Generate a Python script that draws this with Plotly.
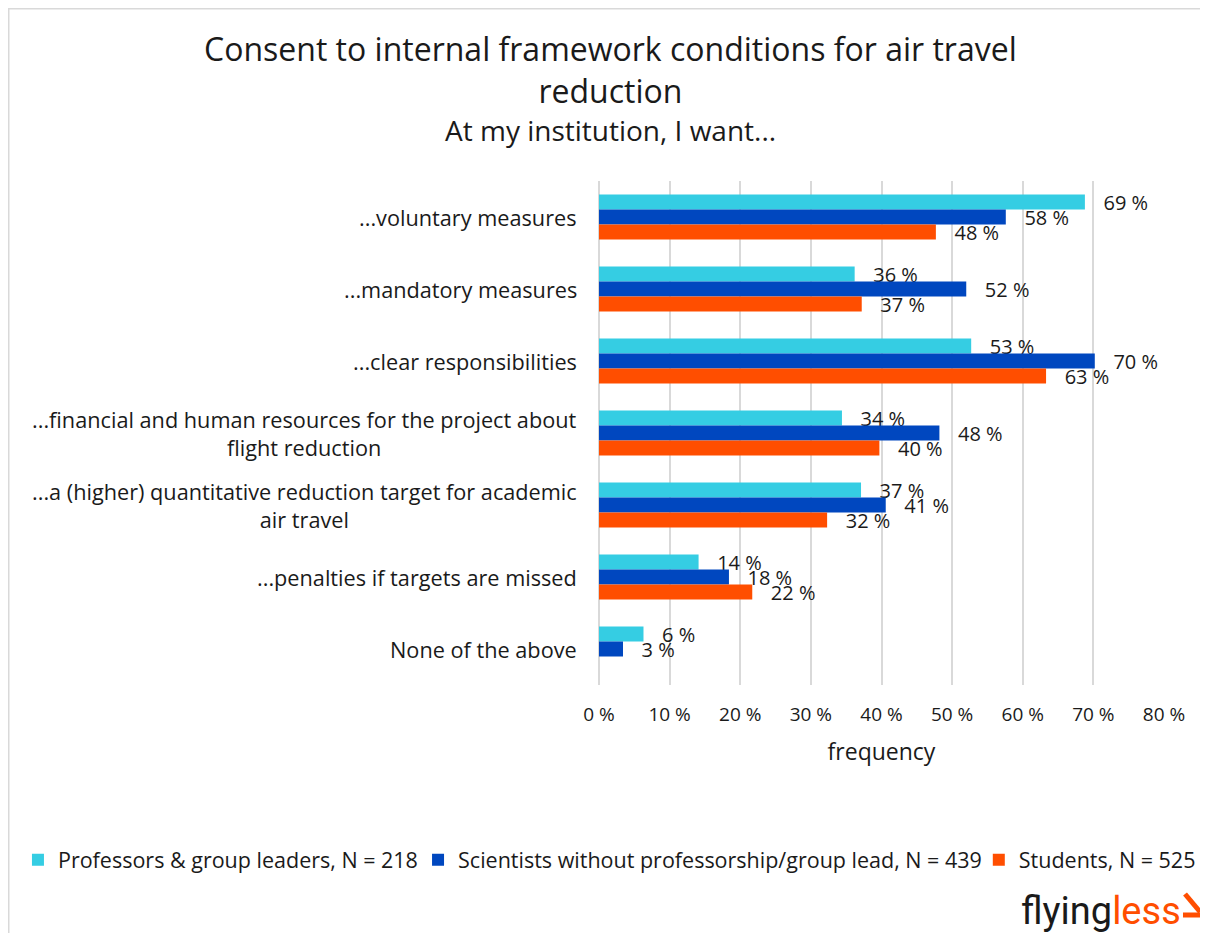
import plotly.graph_objects as go

categories = ['...voluntary measures',
              '...mandatory measures',
              '...clear responsibilities',
              '...financial and human resources for the project about<br>flight reduction',
              '...a (higher) quantitative reduction target for academic<br>air travel',
              '...penalties if targets are missed',
              'None of the above']

series_names = ['Professors & group leaders, N = 218',
                'Scientists without professorship/group lead, N = 439',
                'Students, N = 525']

professors = [68.8, 36.2, 52.7, 34.4, 37.1, 14.1, 6.3]
scientists = [57.6, 52.0, 70.2, 48.2, 40.6, 18.4, 3.4]
students = [47.7, 37.2, 63.3, 39.7, 32.3, 21.7, None]

tick_vals = [0, 10, 20, 30, 40, 50, 60, 70, 80]
tick_text = ['0 %', '10 %', '20 %', '30 %', '40 %', '50 %', '60 %', '70 %', '80 %']

colors = ['#35CDE3', '#0047BF', '#FF4E00']
legend_x = [0.0083, 0.3417, 0.809]   # container coords, one legend per series
font_family = 'Open Sans'
dark = '#1a1a1a'
logo_orange = '#FF4E00'


def labels(vals):
    return ['' if v is None else '\u00a0\u00a0\u00a0{:.0f} %'.format(v) for v in vals]


fig = go.Figure()
for i, (name, vals, col) in enumerate(zip(series_names, [professors, scientists, students], colors)):
    leg = 'legend' if i == 0 else 'legend%d' % (i + 1)
    fig.add_trace(go.Bar(
        name=name, y=categories, x=vals, orientation='h',
        marker_color=col, marker_line_width=0,
        text=labels(vals), textposition='outside', constraintext='none',
        cliponaxis=False, legend=leg,
        textfont={'size': 20, 'color': dark, 'family': font_family}))

legends = {}
for i, lx in enumerate(legend_x):
    key = 'legend' if i == 0 else 'legend%d' % (i + 1)
    legends[key] = {'orientation': 'h',
                    'font': {'size': 21.5, 'family': font_family, 'color': dark},
                    'xref': 'container', 'x': lx, 'xanchor': 'left',
                    'y': -0.347, 'yanchor': 'middle',
                    'bgcolor': 'rgba(0,0,0,0)'}

fig.update_layout(
    width=1200, height=925,
    barmode='group',
    bargap=0.375, bargroupgap=0,
    template='plotly_white',
    plot_bgcolor='white', paper_bgcolor='white',
    margin={'l': 591, 'r': 44, 't': 173, 'b': 248, 'autoexpand': False},
    xaxis={'range': [0, 80], 'tickvals': tick_vals, 'ticktext': tick_text,
           'tickfont': {'size': 19, 'family': font_family, 'color': dark},
           'showgrid': True, 'gridcolor': '#d9d9d9', 'gridwidth': 2,
           'zeroline': True, 'zerolinecolor': '#d9d9d9', 'zerolinewidth': 2,
           'ticklabelstandoff': 16,
           'title': {'text': 'frequency', 'standoff': 17,
                     'font': {'size': 23, 'family': font_family, 'color': dark}}},
    yaxis={'autorange': 'reversed', 'showgrid': False, 'showticklabels': False},
    font={'family': font_family, 'color': dark},
    showlegend=True,
    **legends)

# title and subtitle
fig.add_annotation(text='Consent to internal framework conditions for air travel<br>reduction',
                   xref='paper', yref='paper', x=0.0212, y=1.2222,
                   xanchor='center', yanchor='middle', align='center', showarrow=False,
                   font={'size': 32, 'family': font_family, 'color': dark})
fig.add_annotation(text='At my institution, I want...', xref='paper', yref='paper',
                   x=0.0212, y=1.101, xanchor='center', yanchor='middle',
                   showarrow=False,
                   font={'size': 28, 'family': font_family, 'color': dark})

# category labels, centred line by line like the original
for cat in categories:
    fig.add_annotation(text=cat, xref='paper', yref='y', x=-0.0354, y=cat,
                       xanchor='right', yanchor='middle', align='center',
                       showarrow=False,
                       font={'size': 21.7, 'family': font_family, 'color': dark})

# chart border
fig.add_shape(type='rect', xref='paper', yref='paper',
              x0=-1.046, x1=1.0726, y0=-0.6, y1=1.3433,
              line={'color': '#d9d9d9', 'width': 3}, layer='below')

# logo
fig.add_annotation(
    text='flying<span style="color:#FF4E00">less</span>',
    xref='paper', yref='paper', x=1.033, xanchor='right',
    y=-0.4485, yanchor='middle', showarrow=False,
    font={'size': 38, 'family': 'Roboto', 'color': dark})
# logo arrow mark
fig.add_shape(type='line', xref='paper', yref='paper',
              x0=1.0372, y0=-0.4147, x1=1.0640, y1=-0.4504,
              line={'color': logo_orange, 'width': 5})
fig.add_shape(type='path', xref='paper', yref='paper',
              path='M 1.0700,-0.4147 L 1.0700,-0.4563 L 1.0336,-0.4563',
              line={'color': logo_orange, 'width': 5})

fig.write_html('out.html')
